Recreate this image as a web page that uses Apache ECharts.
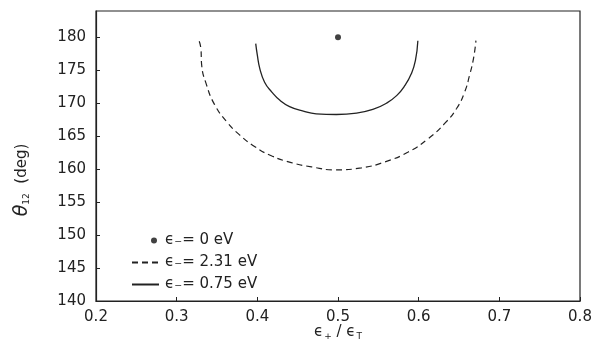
<!DOCTYPE html>
<html>
<head>
<meta charset="utf-8">
<script src="https://cdn.jsdelivr.net/npm/echarts@6/dist/echarts.min.js"></script>
<style>
    html, body { margin: 0; padding: 0; background: #fff; }
    #chart { width: 595px; height: 355px; }
</style>
</head>
<body>
<div id="chart"></div>
<script>
// 数据
var dotX = [0.5];
var dotY = [180];

var dashX = [0.328, 0.330, 0.331, 0.337, 0.347, 0.362, 0.378, 0.397, 0.418, 0.442, 0.467,
             0.496, 0.529, 0.558, 0.587, 0.612, 0.632, 0.647, 0.657, 0.663, 0.668, 0.671];
var dashY = [179.4, 178.3, 175.8, 172.8, 169.8, 167.2, 165.2, 163.4, 162.0, 161.0, 160.35,
             159.9, 160.2, 161.1, 162.6, 164.65, 166.9, 169.2, 171.7, 174.2, 176.8, 179.5];

var solidX = [0.398, 0.400, 0.403, 0.409, 0.418, 0.428, 0.440, 0.457, 0.473, 0.498,
              0.523, 0.544, 0.560, 0.573, 0.583, 0.591, 0.596, 0.599];
var solidY = [179.05, 177.3, 175.3, 173.2, 171.7, 170.45, 169.5, 168.8, 168.4, 168.3,
              168.5, 169.1, 170.0, 171.2, 172.7, 174.5, 176.5, 179.5];

var seriesNames = ['ϵ₋= 0 eV', 'ϵ₋= 2.31 eV', 'ϵ₋= 0.75 eV'];

function zip(xs, ys) {
    return xs.map(function (x, i) { return [x, ys[i]]; });
}

document.addEventListener('DOMContentLoaded', function () {
    var chart = echarts.init(document.getElementById('chart'));
    var font = 'DejaVu Sans';
    var option = {
        animation: false,
        textStyle: { fontFamily: font },
        grid: {
            left: 96, right: 15, top: 11, bottom: 54,
            show: true,
            borderColor: '#222',
            borderWidth: 1.2
        },
        legend: {
            orient: 'vertical',
            left: 126,
            top: 228,
            itemWidth: 27,
            itemHeight: 14,
            itemGap: 7,
            data: [
                // 点的图例：小圆点靠右
                { name: seriesNames[0], icon: 'path://M0,0 M27,14 M25,7 a3,3 0 1,0 -6,0 a3,3 0 1,0 6,0 z' },
                { name: seriesNames[1], itemStyle: { opacity: 0 } },
                { name: seriesNames[2], itemStyle: { opacity: 0 } }
            ],
            textStyle: { fontSize: 15, color: '#222', padding: [0, 0, 0, 1] }
        },
        xAxis: {
            type: 'value',
            min: 0.2,
            max: 0.8,
            interval: 0.1,
            name: '{a|ϵ}{b|+}{a| / ϵ}{b|T}',
            nameLocation: 'middle',
            nameGap: 22,
            nameMoveOverlap: false,
            nameTextStyle: {
                rich: {
                    a: { fontSize: 15, color: '#222', fontFamily: font },
                    b: { fontSize: 9, color: '#222', fontFamily: font, padding: [9, 0, 0, 1] }
                }
            },
            axisLine: { lineStyle: { color: '#222', width: 1.2 } },
            axisTick: { inside: true, length: 4, lineStyle: { color: '#222' } },
            axisLabel: {
                fontSize: 15, color: '#222', margin: 9,
                formatter: function (v) { return v.toFixed(1); }
            },
            splitLine: { show: false }
        },
        yAxis: {
            type: 'value',
            min: 140,
            max: 184,
            interval: 5,
            name: '{t|θ}{s|12}{n|  (deg)}',
            nameLocation: 'middle',
            nameGap: 64,
            nameMoveOverlap: false,
            nameTextStyle: {
                padding: [0, 48, 0, 0],
                rich: {
                    t: { fontSize: 19, fontStyle: 'italic', color: '#222', fontFamily: font },
                    s: { fontSize: 9, color: '#222', fontFamily: font, padding: [8, 0, 0, 0] },
                    n: { fontSize: 15, color: '#222', fontFamily: font }
                }
            },
            axisLine: { lineStyle: { color: '#222', width: 1.2 } },
            axisTick: { inside: true, length: 4, lineStyle: { color: '#222' } },
            axisLabel: { fontSize: 15, color: '#222', margin: 10, showMaxLabel: false },
            splitLine: { show: false }
        },
        series: [
            {
                name: seriesNames[0],
                type: 'scatter',
                data: zip(dotX, dotY),
                symbolSize: 6,
                itemStyle: { color: '#111' }
            },
            {
                name: seriesNames[1],
                type: 'line',
                data: zip(dashX, dashY),
                smooth: 0.5,
                symbol: 'none',
                lineStyle: { color: '#222', width: 1.2, type: [6, 4] },
                itemStyle: { color: '#222' }
            },
            {
                name: seriesNames[2],
                type: 'line',
                data: zip(solidX, solidY),
                smooth: 0.5,
                symbol: 'none',
                lineStyle: { color: '#222', width: 1.3 },
                itemStyle: { color: '#222' }
            }
        ]
    };
    chart.setOption(option);
    window.addEventListener('resize', function () {
        chart.resize();
    });
});
</script>
</body>
</html>
